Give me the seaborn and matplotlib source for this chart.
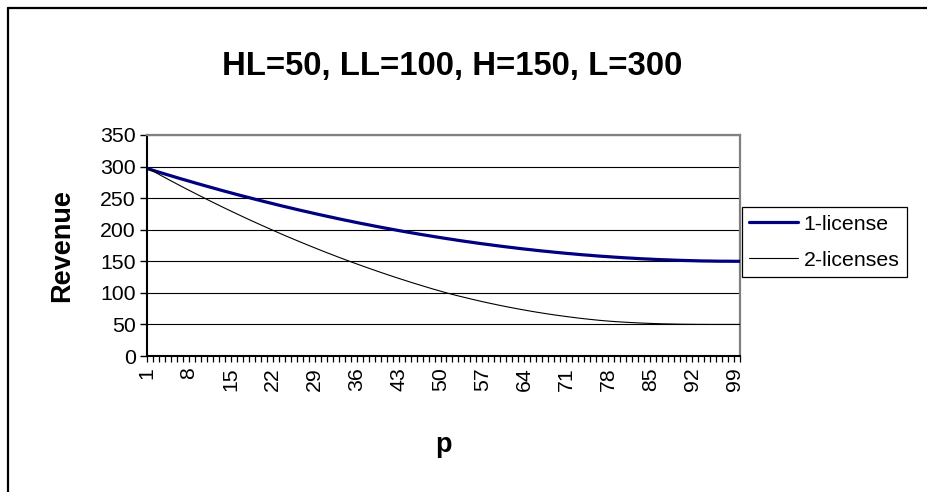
import matplotlib
matplotlib.use("Agg")
import matplotlib.pyplot as plt
from matplotlib.lines import Line2D
from matplotlib.ticker import FixedLocator, MultipleLocator
import seaborn as sns
import pandas as pd

# ---------------- data ----------------
p_values = list(range(1, 101))
tick_labels = [1, 8, 15, 22, 29, 36, 43, 50, 57, 64, 71, 78, 85, 92, 99]
series_names = ["1-license", "2-licenses"]

one_license = [
    297.0, 294.1, 291.1, 288.2, 285.4, 282.5, 279.7, 277.0, 274.2, 271.5,
    268.8, 266.2, 263.5, 260.9, 258.4, 255.8, 253.3, 250.9, 248.4, 246.0,
    243.6, 241.3, 238.9, 236.6, 234.4, 232.1, 229.9, 227.8, 225.6, 223.5,
    221.4, 219.4, 217.3, 215.3, 213.4, 211.4, 209.5, 207.7, 205.8, 204.0,
    202.2, 200.5, 198.7, 197.0, 195.4, 193.7, 192.1, 190.6, 189.0, 187.5,
    186.0, 184.6, 183.1, 181.7, 180.4, 179.0, 177.7, 176.5, 175.2, 174.0,
    172.8, 171.7, 170.5, 169.4, 168.4, 167.3, 166.3, 165.4, 164.4, 163.5,
    162.6, 161.8, 160.9, 160.1, 159.4, 158.6, 157.9, 157.3, 156.6, 156.0,
    155.4, 154.9, 154.3, 153.8, 153.4, 152.9, 152.5, 152.2, 151.8, 151.5,
    151.2, 151.0, 150.7, 150.5, 150.4, 150.2, 150.1, 150.1, 150.0, 150.0,
]

two_licenses = [
    297.0, 292.8, 287.6, 282.5, 277.4, 272.4, 267.4, 262.5, 257.7, 252.9,
    248.1, 243.4, 238.7, 234.1, 229.6, 225.1, 220.6, 216.2, 211.9, 207.6,
    203.4, 199.2, 195.0, 190.9, 186.9, 182.9, 179.0, 175.1, 171.3, 167.5,
    163.7, 160.1, 156.4, 152.9, 149.3, 145.9, 142.5, 139.1, 135.8, 132.5,
    129.3, 126.1, 123.0, 120.0, 116.9, 114.0, 111.1, 108.2, 105.4, 102.7,
    100.0, 97.5, 95.1, 92.8, 90.5, 88.3, 86.1, 84.0, 82.0, 80.0,
    78.1, 76.3, 74.5, 72.8, 71.1, 69.5, 68.0, 66.5, 65.1, 63.8,
    62.5, 61.3, 60.1, 59.0, 58.0, 57.0, 56.1, 55.3, 54.6, 54.0,
    53.4, 52.9, 52.4, 52.0, 51.6, 51.3, 51.0, 50.8, 50.6, 50.4,
    50.3, 50.2, 50.1, 50.1, 50.0, 50.0, 50.0, 50.0, 50.0, 50.0,
]

df = pd.DataFrame({
    "p": p_values * 2,
    "Revenue": one_license + two_licenses,
    "series": [series_names[0]] * len(p_values) + [series_names[1]] * len(p_values),
})

# ---------------- style ----------------
sns.set_style("white")
plt.rcParams["font.family"] = ["Liberation Sans", "DejaVu Sans"]
plt.rcParams["text.color"] = "black"
plt.rcParams["axes.labelcolor"] = "black"
plt.rcParams["xtick.color"] = "black"
plt.rcParams["ytick.color"] = "black"

W, H = 927, 492
fig = plt.figure(figsize=(W / 100, H / 100), dpi=100)
fig.patch.set_facecolor("white")

left, right, top, bottom = 147, 740, 135, 356
ax = fig.add_axes([left / W, 1 - bottom / H, (right - left) / W, (bottom - top) / H])

colors = {"1-license": "#000080", "2-licenses": "#000000"}
widths = {"1-license": 2.3, "2-licenses": 0.8}
for name in series_names:
    sns.lineplot(data=df[df["series"] == name], x="p", y="Revenue", ax=ax,
                 color=colors[name], linewidth=widths[name], legend=False,
                 zorder=3)

ax.set_xlim(1, 100)
ax.set_ylim(0, 350)
ax.yaxis.set_major_locator(MultipleLocator(50))
ax.xaxis.set_major_locator(FixedLocator(tick_labels))
ax.xaxis.set_minor_locator(FixedLocator(p_values))
ax.set_xticklabels([str(t) for t in tick_labels], rotation=90, fontsize=15.3,
                   color="black")
ax.tick_params(axis="y", labelsize=15.3, length=5, width=1, color="black",
               labelcolor="black", direction="out", pad=3, left=True)
ax.tick_params(axis="x", which="both", length=4, width=0.9, color="black",
               labelcolor="black", direction="out", pad=4, bottom=True)

ax.grid(axis="y", color="black", linewidth=0.8)
ax.set_axisbelow(True)

for s in ["left", "bottom"]:
    ax.spines[s].set_color("black")
    ax.spines[s].set_linewidth(1.5)
for s in ["top", "right"]:
    ax.spines[s].set_color("#808080")
    ax.spines[s].set_linewidth(1.6)

ax.set_xlabel("")
ax.set_ylabel("")
fig.text(62 / W, 1 - 245.5 / H, "Revenue", rotation=90, ha="center", va="center",
         fontsize=19.5, fontweight="bold", color="black")
fig.text(443 / W, 1 - 445 / H, "p", ha="center", va="center",
         fontsize=19.5, fontweight="bold", color="black")
fig.text(452.5 / W, 1 - 75 / H, "HL=50, LL=100, H=150, L=300", ha="center",
         va="baseline", fontsize=23.7, fontweight="bold", color="black")

handles = [Line2D([], [], color=colors[n], linewidth=widths[n]) for n in series_names]
leg = ax.legend(handles, series_names, loc="center left",
                bbox_to_anchor=(742 / W, 1 - 242 / H), bbox_transform=fig.transFigure,
                borderaxespad=0, frameon=True, fancybox=False, framealpha=1,
                edgecolor="black", fontsize=15.3, handlelength=2.3,
                handletextpad=0.25, labelspacing=0.8, borderpad=0.35)
leg.get_frame().set_linewidth(0.9)
for t in leg.get_texts():
    t.set_color("black")

# outer chart border (top and left edges visible)
fig.add_artist(Line2D([8 / W, 1], [1 - 8 / H, 1 - 8 / H], transform=fig.transFigure,
                      color="black", linewidth=1.6))
fig.add_artist(Line2D([8 / W, 8 / W], [0, 1 - 8 / H], transform=fig.transFigure,
                      color="black", linewidth=1.6))

fig.savefig("out.png", dpi=100)
